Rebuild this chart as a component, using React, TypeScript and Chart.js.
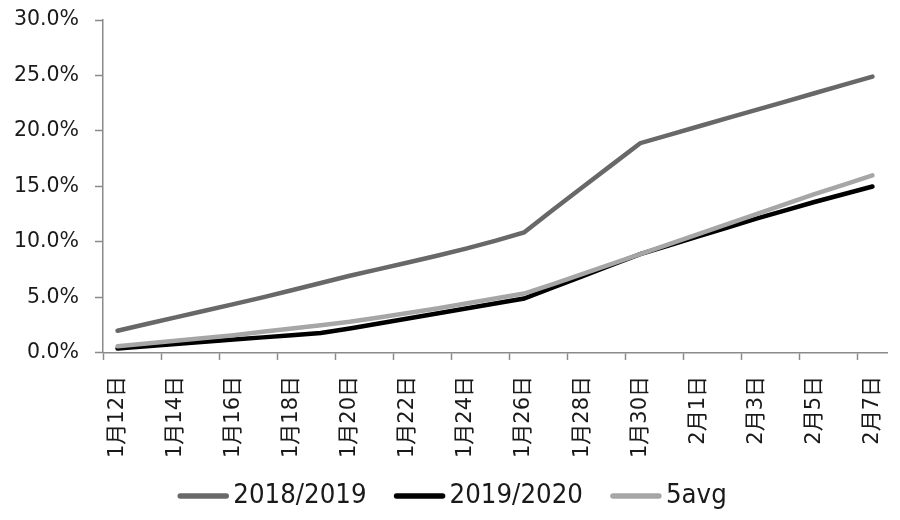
import React, { useEffect, useRef } from "react";
import { Chart, registerables } from "chart.js";

Chart.register(...registerables);

const categories = [
  "1月12日", "1月13日", "1月14日", "1月15日", "1月16日", "1月17日", "1月18日",
  "1月19日", "1月20日", "1月21日", "1月22日", "1月23日", "1月24日", "1月25日",
  "1月26日", "1月27日", "1月28日", "1月29日", "1月30日", "1月31日",
  "2月1日", "2月2日", "2月3日", "2月4日", "2月5日", "2月6日", "2月7日",
];

const s2018_2019 = [
  2.0, 2.6, 3.2, 3.8, 4.4, 5.0, 5.65, 6.3, 6.95, 7.55, 8.15, 8.75, 9.4, 10.1,
  10.85, 12.9, 14.9, 16.9, 18.9, 19.65, 20.4, 21.15, 21.9, 22.65, 23.4, 24.15, 24.9,
];

const s2019_2020 = [
  0.4, 0.6, 0.8, 1.0, 1.2, 1.4, 1.6, 1.8, 2.2, 2.65, 3.1, 3.55, 4.0, 4.45,
  4.9, 5.9, 6.9, 7.9, 8.9, 9.7, 10.5, 11.3, 12.1, 12.85, 13.6, 14.3, 15.0,
];

const s5avg = [
  0.6, 0.85, 1.1, 1.35, 1.6, 1.9, 2.2, 2.5, 2.8, 3.2, 3.6, 4.0, 4.45, 4.9,
  5.35, 6.2, 7.1, 8.0, 8.9, 9.8, 10.7, 11.6, 12.5, 13.4, 14.3, 15.15, 16.0,
];

const seriesNames = ["2018/2019", "2019/2020", "5avg"];
const seriesColors = ["#686868", "#000000", "#a6a6a6"];
const yMin = 0;
const yMax = 30;
const yStep = 5;

const legendPlugin = {
  id: "customLegend",
  afterDraw(chart: any) {
    const ctx = chart.ctx;
    const font = "27px 'DejaVu Sans'";
    const squeeze = 0.91;
    const lineLen = 50;
    const gapText = 5;
    const gapItem = 28;
    ctx.save();
    ctx.font = font;
    const items = chart.data.datasets.map((ds: any) => ({
      text: ds.label,
      color: ds.borderColor,
      w: ctx.measureText(ds.label).width * squeeze,
    }));
    let total = 0;
    items.forEach((it: any, i: number) => {
      total += lineLen + gapText + it.w + (i < items.length - 1 ? gapItem : 0);
    });
    let x = 452.5 - total / 2;
    const y = 496;
    ctx.textBaseline = "middle";
    ctx.textAlign = "left";
    items.forEach((it: any) => {
      ctx.strokeStyle = it.color;
      ctx.lineWidth = 5.5;
      ctx.lineCap = "round";
      ctx.beginPath();
      ctx.moveTo(x + 2, y);
      ctx.lineTo(x + lineLen - 2, y);
      ctx.stroke();
      ctx.save();
      ctx.translate(x + lineLen + gapText, y);
      ctx.scale(squeeze, 1);
      ctx.fillStyle = "#1a1a1a";
      ctx.fillText(it.text, 0, 0);
      ctx.restore();
      x += lineLen + gapText + it.w + gapItem;
    });
    ctx.restore();
  },
};

export default function App() {
  const ref = useRef<HTMLCanvasElement | null>(null);

  useEffect(() => {
    if (!ref.current) return;
    const axisColor = "#8a8a8a";
    const mk = (i: number, data: number[], order: number) => ({
      label: seriesNames[i],
      data,
      borderColor: seriesColors[i],
      backgroundColor: seriesColors[i],
      borderWidth: 4.5,
      pointRadius: 0,
      tension: 0,
      borderCapStyle: "round" as const,
      order,
    });
    const chart = new Chart(ref.current, {
      type: "line",
      data: {
        labels: categories,
        datasets: [mk(0, s2018_2019, 3), mk(1, s2019_2020, 2), mk(2, s5avg, 1)],
      },
      options: {
        animation: false,
        responsive: false,
        maintainAspectRatio: false,
        layout: { padding: { left: 8, right: 13, top: 20, bottom: 46 } },
        plugins: {
          tooltip: { enabled: false },
          legend: { display: false },
        },
        scales: {
          x: {
            offset: true,
            border: { display: true, color: axisColor, width: 1.5 },
            grid: {
              offset: true,
              drawOnChartArea: false,
              drawTicks: true,
              tickLength: 7,
              tickWidth: 1.5,
              color: (ctx: any) => (ctx.index % 2 === 0 ? axisColor : "rgba(0,0,0,0)"),
            },
            afterFit: (s: any) => {
              s.paddingLeft = 0;
              s.paddingRight = 0;
            },
            ticks: {
              autoSkip: false,
              minRotation: 90,
              maxRotation: 90,
              padding: 16,
              color: "#1a1a1a",
              font: { family: "'DejaVu Sans', 'Noto Sans CJK SC'", size: 21 },
              callback: (_v: any, i: number) => (i % 2 === 0 ? categories[i] : ""),
            },
          },
          y: {
            min: yMin,
            max: yMax,
            border: { display: true, color: axisColor, width: 1.5 },
            grid: {
              drawOnChartArea: false,
              drawTicks: true,
              tickLength: 8,
              tickWidth: 1.5,
              color: axisColor,
            },
            afterFit: (s: any) => {
              s.width = 95;
              s.paddingTop = 0;
              s.paddingBottom = 0;
            },
            ticks: {
              stepSize: yStep,
              padding: 16,
              color: "#1a1a1a",
              font: { family: "'DejaVu Sans'", size: 20.5 },
              callback: (v: any) => Number(v).toFixed(1) + "%",
            },
          },
        },
      },
      plugins: [legendPlugin],
    });
    return () => chart.destroy();
  }, []);

  return (
    <div style={{ position: "fixed", left: 0, top: 0, width: 900, height: 520, background: "#fff" }}>
      <canvas ref={ref} width={900} height={520} style={{ width: 900, height: 520 }} />
    </div>
  );
}
